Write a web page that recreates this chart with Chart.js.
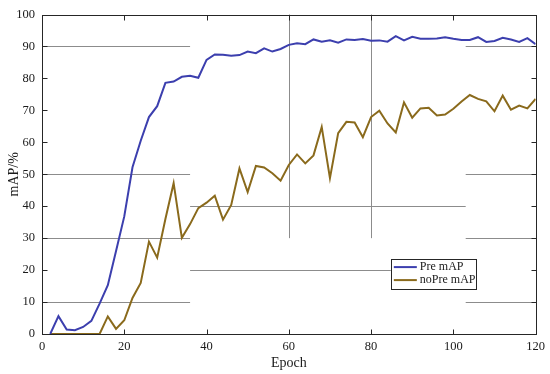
<!DOCTYPE html>
<html>
<head>
<meta charset="utf-8">
<script src="https://cdn.jsdelivr.net/npm/chart.js@4/dist/chart.umd.min.js"></script>
<style>
  html, body { margin: 0; padding: 0; background: #ffffff; }
  #wrap { width: 550px; height: 374px; }
</style>
</head>
<body>
<div id="wrap"><canvas id="c" width="550" height="374"></canvas></div>
<script>
const epochs = [2,4,6,8,10,12,14,16,18,20,22,24,26,28,30,32,34,36,38,40,
  42,44,46,48,50,52,54,56,58,60,62,64,66,68,70,72,74,76,78,80,
  82,84,86,88,90,92,94,96,98,100,102,104,106,108,110,112,114,116,118,120];

const preMAP = [0,5.6,1.4,1.2,2.2,4.1,9.5,15.3,26,36.8,52.2,60.5,67.9,71.3,78.6,79,80.5,80.8,80.2,85.8,
  87.5,87.4,87.1,87.3,88.4,87.9,89.4,88.4,89.2,90.5,91,90.7,92.2,91.5,91.9,91.2,92.2,92.0,92.3,91.8,
  91.9,91.5,93.2,91.9,93.0,92.4,92.4,92.5,92.9,92.4,92.0,92.0,92.9,91.4,91.7,92.7,92.2,91.4,92.6,90.7];

const noPreMAP = [0,0,0,0,0,0,0,5.5,1.6,4.3,11.3,16,28.9,23.9,36,47.2,30.1,34.4,39.4,41.1,
  43.3,35.8,40.4,51.8,44.4,52.6,52.1,50.3,48,52.9,56.2,53.4,55.9,64.8,48.8,62.9,66.4,66.2,61.6,67.9,
  69.9,65.9,63.1,72.5,67.7,70.6,70.8,68.4,68.7,70.5,72.8,74.8,73.6,72.8,69.7,74.6,70.2,71.5,70.6,73.6];

const seriesNames = ["Pre mAP", "noPre mAP"];
const xTitle = "Epoch";
const yTitle = "mAP/%";

// visible grid line pieces, in axis units: [value, from, to]
const hGridPieces = [[90,0,36],[90,103,120],[50,0,36],[50,103,120],[40,36,103],
  [30,0,36],[30,103,120],[20,36,103],[10,0,36],[10,103,120]];
const vGridPieces = [[60,30,100],[80,30,100]];

const FONT = "'Liberation Serif', 'Times New Roman', serif";

const decor = {
  id: 'decor',
  beforeDatasetsDraw(chart) {
    const {ctx, scales: {x, y}} = chart;
    ctx.save();
    ctx.strokeStyle = '#8c8c8c';
    ctx.lineWidth = 1;
    ctx.beginPath();
    hGridPieces.forEach(([v, a, b]) => {
      const py = Math.round(y.getPixelForValue(v)) + 0.5;
      ctx.moveTo(x.getPixelForValue(a), py);
      ctx.lineTo(x.getPixelForValue(b), py);
    });
    vGridPieces.forEach(([v, a, b]) => {
      const px = Math.round(x.getPixelForValue(v)) + 0.5;
      ctx.moveTo(px, y.getPixelForValue(a));
      ctx.lineTo(px, y.getPixelForValue(b));
    });
    ctx.stroke();
    ctx.restore();
  },
  afterDatasetsDraw(chart) {
    const {ctx, chartArea: ca, scales: {x, y}} = chart;
    ctx.save();
    ctx.strokeStyle = '#262626';
    ctx.lineWidth = 1;
    const L = Math.round(ca.left) + 0.5, R = Math.round(ca.right) + 0.5;
    const T = Math.round(ca.top) + 0.5, B = Math.round(ca.bottom) + 0.5;
    ctx.strokeRect(L, T, R - L, B - T);
    const tl = 5;
    ctx.beginPath();
    x.ticks.forEach(t => {
      const px = Math.round(x.getPixelForValue(t.value)) + 0.5;
      ctx.moveTo(px, B); ctx.lineTo(px, B - tl);
      ctx.moveTo(px, T); ctx.lineTo(px, T + tl);
    });
    y.ticks.forEach(t => {
      const py = Math.round(y.getPixelForValue(t.value)) + 0.5;
      ctx.moveTo(L, py); ctx.lineTo(L + tl, py);
      ctx.moveTo(R, py); ctx.lineTo(R - tl, py);
    });
    ctx.stroke();

    // legend
    const lx = x.getPixelForValue(84.8), ly = y.getPixelForValue(23.6);
    const w = 85, h = 30;
    ctx.fillStyle = '#ffffff';
    ctx.fillRect(lx, ly, w, h);
    ctx.strokeStyle = '#262626';
    ctx.strokeRect(Math.round(lx) + 0.5, Math.round(ly) + 0.5, w, h);
    ctx.font = '12px ' + FONT;
    ctx.textBaseline = 'middle';
    chart.data.datasets.forEach((ds, i) => {
      const cy = ly + 8.5 + i * 13;
      ctx.strokeStyle = ds.borderColor;
      ctx.lineWidth = 2;
      ctx.beginPath();
      ctx.moveTo(lx + 3, cy); ctx.lineTo(lx + 26, cy);
      ctx.stroke();
      ctx.fillStyle = '#1a1a1a';
      ctx.fillText(ds.label, lx + 29, cy);
    });
    ctx.restore();
  }
};

new Chart(document.getElementById('c'), {
  type: 'line',
  data: {
    datasets: [
      { label: seriesNames[0], data: epochs.map((e, i) => ({x: e, y: preMAP[i]})),
        borderColor: '#3c3fae', borderWidth: 2, pointRadius: 0, tension: 0, fill: false },
      { label: seriesNames[1], data: epochs.map((e, i) => ({x: e, y: noPreMAP[i]})),
        borderColor: '#8a6a1c', borderWidth: 2, pointRadius: 0, tension: 0, fill: false }
    ]
  },
  options: {
    responsive: false,
    animation: false,
    devicePixelRatio: 1,
    layout: { padding: { left: 0, right: 13, top: 8, bottom: 0 } },
    plugins: { legend: { display: false }, tooltip: { enabled: false } },
    scales: {
      x: {
        type: 'linear', min: 0, max: 120,
        ticks: { stepSize: 20, color: '#1a1a1a', font: { family: FONT, size: 12.5 }, padding: 5, maxRotation: 0 },
        grid: { display: false, drawTicks: false },
        border: { display: false },
        title: { display: true, text: xTitle, color: '#1a1a1a', font: { family: FONT, size: 14 }, padding: { top: 0, bottom: 2 } },
        afterFit(s) { s.height = 40; }
      },
      y: {
        min: 0, max: 100,
        ticks: { stepSize: 10, color: '#1a1a1a', font: { family: FONT, size: 12.5 }, padding: 7 },
        grid: { display: false, drawTicks: false },
        border: { display: false },
        title: { display: true, text: yTitle, color: '#1a1a1a', font: { family: FONT, size: 14 }, padding: { top: 6, bottom: 0 } },
        afterFit(s) { s.width = 42; }
      }
    }
  },
  plugins: [decor]
});
</script>
</body>
</html>
